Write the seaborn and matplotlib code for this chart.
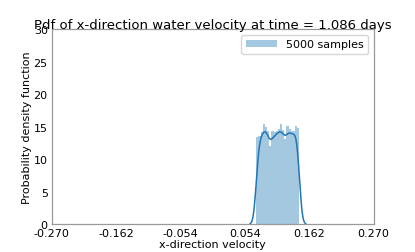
import numpy as np
import pandas as pd
import matplotlib
matplotlib.use("Agg")
import matplotlib.pyplot as plt
import seaborn as sns

# histogram (density per bin)
bin_edges = [0.0732, 0.0768, 0.0804, 0.0841, 0.0877, 0.0913, 0.0949, 0.0985,
             0.1022, 0.1058, 0.1094, 0.1130, 0.1166, 0.1203, 0.1239, 0.1275,
             0.1311, 0.1347, 0.1384, 0.1420, 0.1456]
bin_density = [13.4, 13.6, 14.2, 15.5, 15.0, 14.3, 12.0, 14.4, 14.2, 14.3,
               14.6, 15.5, 14.5, 13.1, 15.1, 14.6, 14.4, 14.3, 15.1, 14.8]
x_ticks = [-0.270, -0.162, -0.054, 0.054, 0.162, 0.270]
y_ticks = [0, 5, 10, 15, 20, 25, 30]

centers = [(a + b) / 2 for a, b in zip(bin_edges[:-1], bin_edges[1:])]
df = pd.DataFrame({"velocity": centers, "density": bin_density})

sns.set_theme(style="white")
plt.rcParams["font.family"] = ["DejaVu Sans"]
plt.rcParams["axes.edgecolor"] = "0.6"
plt.rcParams["axes.linewidth"] = 0.9
plt.rcParams["text.color"] = "black"
plt.rcParams["axes.labelcolor"] = "black"

fig = plt.figure(figsize=(4.15, 2.53), dpi=100)
ax = fig.add_axes([0.125, 0.11, 0.775, 0.77])

sns.histplot(data=df, x="velocity", weights="density", bins=bin_edges,
             stat="count", color="#1f77b4", alpha=0.4, linewidth=0,
             label="5000 samples", ax=ax)
sns.kdeplot(data=df, x="velocity", weights="density", bw_adjust=0.36,
            color="#1f77b4", linewidth=1.1, ax=ax)

ax.set_xlim(-0.27, 0.27)
ax.set_ylim(0, 30)
ax.set_xticks(x_ticks)
ax.set_xticklabels([f"{t:.3f}" for t in x_ticks])
ax.set_yticks(y_ticks)
ax.tick_params(axis="both", length=2.5, width=0.8, pad=0.5,
               labelsize=8, colors="0.6", labelcolor="black")
for s in ax.spines.values():
    s.set_visible(True)

ax.set_title("Pdf of x-direction water velocity at time = 1.086 days",
             fontsize=9.5, pad=1, color="black")
ax.set_xlabel("x-direction velocity", fontsize=8, labelpad=0.5)
ax.set_ylabel("Probability density function", fontsize=8, labelpad=1)
ax.legend(loc="upper right", fontsize=8, frameon=True, handlelength=2.8)

plt.savefig("out.png", dpi=100)
plt.close()
